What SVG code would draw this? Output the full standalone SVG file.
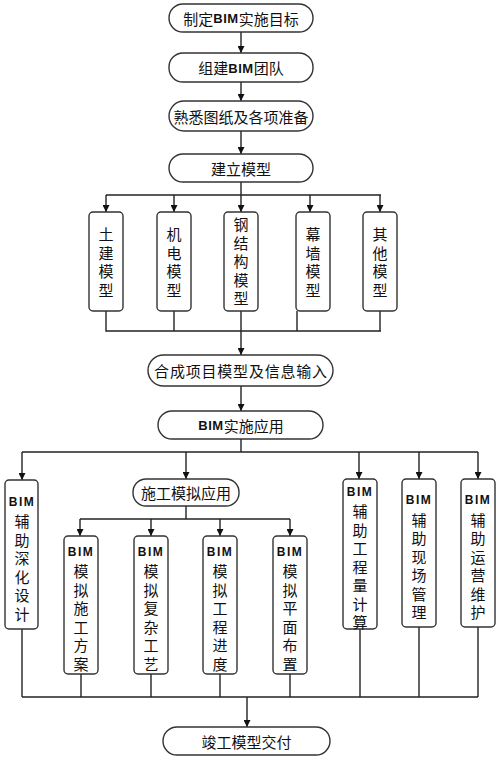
<svg xmlns="http://www.w3.org/2000/svg" width="500" height="762" viewBox="0 0 500 762">
<style>
.box{fill:#fff;stroke:#333;stroke-width:1.4}
.ln{fill:none;stroke:#222;stroke-width:1.4}
.t{font-family:"Noto Sans CJK SC","Liberation Sans",sans-serif;font-size:15px;fill:#111;text-anchor:middle;dominant-baseline:central}
.b{font-family:"Liberation Sans",sans-serif;font-weight:bold;font-size:12px;letter-spacing:1.5px}
.bh{font-family:"Liberation Sans",sans-serif;font-weight:bold;font-size:13px;letter-spacing:0.5px}
</style>
<defs>
<marker id="ar" viewBox="0 0 10 10" refX="10" refY="5" markerWidth="7" markerHeight="7" markerUnits="userSpaceOnUse" orient="auto">
<path d="M0,0 L10,5 L0,10 z" fill="#111"/>
</marker>
</defs>
<rect width="500" height="762" fill="#fff"/>
<g id="connectors">
<line class="ln" x1="241" y1="32" x2="241" y2="53" marker-end="url(#ar)"/>
<line class="ln" x1="241" y1="82" x2="241" y2="101" marker-end="url(#ar)"/>
<line class="ln" x1="241" y1="131" x2="241" y2="154" marker-end="url(#ar)"/>
<polyline class="ln" points="241,182 241,195"/>
<line class="ln" x1="106" y1="195" x2="381" y2="195"/>
<line class="ln" x1="106" y1="195" x2="106" y2="212" marker-end="url(#ar)"/>
<line class="ln" x1="174" y1="195" x2="174" y2="212" marker-end="url(#ar)"/>
<line class="ln" x1="241" y1="195" x2="241" y2="212" marker-end="url(#ar)"/>
<line class="ln" x1="310" y1="195" x2="310" y2="212" marker-end="url(#ar)"/>
<line class="ln" x1="380" y1="195" x2="380" y2="212" marker-end="url(#ar)"/>
<polyline class="ln" points="106,311 106,331 381,331"/>
<line class="ln" x1="174" y1="311" x2="174" y2="331"/>
<line class="ln" x1="241" y1="311" x2="241" y2="331"/>
<line class="ln" x1="297" y1="311" x2="297" y2="331"/>
<line class="ln" x1="380" y1="311" x2="380" y2="331"/>
<line class="ln" x1="241" y1="331" x2="241" y2="355" marker-end="url(#ar)"/>
<line class="ln" x1="241" y1="386" x2="241" y2="411" marker-end="url(#ar)"/>
<line class="ln" x1="241" y1="439" x2="241" y2="452"/>
<line class="ln" x1="22" y1="452" x2="478" y2="452"/>
<line class="ln" x1="22" y1="452" x2="22" y2="480" marker-end="url(#ar)"/>
<line class="ln" x1="186" y1="452" x2="186" y2="479" marker-end="url(#ar)"/>
<line class="ln" x1="359" y1="452" x2="359" y2="479" marker-end="url(#ar)"/>
<line class="ln" x1="419" y1="452" x2="419" y2="479" marker-end="url(#ar)"/>
<line class="ln" x1="478" y1="452" x2="478" y2="479" marker-end="url(#ar)"/>
<line class="ln" x1="186" y1="506" x2="186" y2="519"/>
<line class="ln" x1="80" y1="519" x2="290" y2="519"/>
<line class="ln" x1="80" y1="519" x2="80" y2="536" marker-end="url(#ar)"/>
<line class="ln" x1="151" y1="519" x2="151" y2="536" marker-end="url(#ar)"/>
<line class="ln" x1="220" y1="519" x2="220" y2="536" marker-end="url(#ar)"/>
<line class="ln" x1="290" y1="519" x2="290" y2="536" marker-end="url(#ar)"/>
<line class="ln" x1="22" y1="697" x2="478" y2="697"/>
<line class="ln" x1="22" y1="629" x2="22" y2="697"/>
<line class="ln" x1="81" y1="674" x2="81" y2="697"/>
<line class="ln" x1="151" y1="674" x2="151" y2="697"/>
<line class="ln" x1="220" y1="674" x2="220" y2="697"/>
<line class="ln" x1="290" y1="674" x2="290" y2="697"/>
<line class="ln" x1="360" y1="629" x2="360" y2="697"/>
<line class="ln" x1="419" y1="627" x2="419" y2="697"/>
<line class="ln" x1="478" y1="627" x2="478" y2="697"/>
<line class="ln" x1="247" y1="697" x2="247" y2="727" marker-end="url(#ar)"/>
</g>
<g id="n1"><rect class="box" x="169" y="4" width="144" height="28" rx="14"/><text class="t" x="241" y="18">制定<tspan class="bh">BIM</tspan>实施目标</text></g>
<g id="n2"><rect class="box" x="169" y="53" width="144" height="29" rx="14"/><text class="t" x="241" y="67.5">组建<tspan class="bh">BIM</tspan>团队</text></g>
<g id="n3"><rect class="box" x="169" y="101" width="144" height="30" rx="15"/><text class="t" x="241" y="116">熟悉图纸及各项准备</text></g>
<g id="n4"><rect class="box" x="169" y="154" width="144" height="28" rx="14"/><text class="t" x="241" y="168">建立模型</text></g>
<g id="m1"><rect class="box" x="89" y="212" width="34" height="99" rx="4"/><text class="t" x="106"><tspan x="106" y="233">土</tspan><tspan x="106" y="251.5">建</tspan><tspan x="106" y="270">模</tspan><tspan x="106" y="288.5">型</tspan></text></g>
<g id="m2"><rect class="box" x="157" y="212" width="34" height="99" rx="4"/><text class="t"><tspan x="174" y="233">机</tspan><tspan x="174" y="251.5">电</tspan><tspan x="174" y="270">模</tspan><tspan x="174" y="288.5">型</tspan></text></g>
<g id="m3"><rect class="box" x="224" y="212" width="34" height="99" rx="4"/><text class="t"><tspan x="241" y="223">钢</tspan><tspan x="241" y="241.5">结</tspan><tspan x="241" y="260">构</tspan><tspan x="241" y="278.5">模</tspan><tspan x="241" y="297">型</tspan></text></g>
<g id="m4"><rect class="box" x="296" y="212" width="34" height="99" rx="4"/><text class="t"><tspan x="313" y="233">幕</tspan><tspan x="313" y="251.5">墙</tspan><tspan x="313" y="270">模</tspan><tspan x="313" y="288.5">型</tspan></text></g>
<g id="m5"><rect class="box" x="363" y="212" width="34" height="99" rx="4"/><text class="t"><tspan x="380" y="233">其</tspan><tspan x="380" y="251.5">他</tspan><tspan x="380" y="270">模</tspan><tspan x="380" y="288.5">型</tspan></text></g>
<g id="n6"><rect class="box" x="148" y="355" width="185" height="31" rx="15.5"/><text class="t" x="241" y="370.5" letter-spacing="0.8">合成项目模型及信息输入</text></g>
<g id="n7"><rect class="box" x="158" y="411" width="165" height="28" rx="14"/><text class="t" x="241" y="425"><tspan class="bh">BIM</tspan>实施应用</text></g>
<g id="a1"><rect class="box" x="5" y="480" width="33" height="149" rx="4"/><text class="t"><tspan class="b" x="22" y="502">BIM</tspan><tspan x="22" y="520">辅</tspan><tspan x="22" y="538.5">助</tspan><tspan x="22" y="557">深</tspan><tspan x="22" y="575.5">化</tspan><tspan x="22" y="594">设</tspan><tspan x="22" y="612.5">计</tspan></text></g>
<g id="s0"><rect class="box" x="133" y="479" width="106" height="27" rx="13"/><text class="t" x="186" y="492.5">施工模拟应用</text></g>
<g id="s1"><rect class="box" x="64" y="536" width="34" height="138" rx="4"/><text class="t"><tspan class="b" x="81" y="552">BIM</tspan><tspan x="81" y="570">模</tspan><tspan x="81" y="588.5">拟</tspan><tspan x="81" y="607">施</tspan><tspan x="81" y="625.5">工</tspan><tspan x="81" y="644">方</tspan><tspan x="81" y="662.5">案</tspan></text></g>
<g id="s2"><rect class="box" x="134" y="536" width="34" height="138" rx="4"/><text class="t"><tspan class="b" x="151" y="552">BIM</tspan><tspan x="151" y="570">模</tspan><tspan x="151" y="588.5">拟</tspan><tspan x="151" y="607">复</tspan><tspan x="151" y="625.5">杂</tspan><tspan x="151" y="644">工</tspan><tspan x="151" y="662.5">艺</tspan></text></g>
<g id="s3"><rect class="box" x="203" y="536" width="34" height="138" rx="4"/><text class="t"><tspan class="b" x="220" y="552">BIM</tspan><tspan x="220" y="570">模</tspan><tspan x="220" y="588.5">拟</tspan><tspan x="220" y="607">工</tspan><tspan x="220" y="625.5">程</tspan><tspan x="220" y="644">进</tspan><tspan x="220" y="662.5">度</tspan></text></g>
<g id="s4"><rect class="box" x="273" y="536" width="34" height="138" rx="4"/><text class="t"><tspan class="b" x="290" y="552">BIM</tspan><tspan x="290" y="570">模</tspan><tspan x="290" y="588.5">拟</tspan><tspan x="290" y="607">平</tspan><tspan x="290" y="625.5">面</tspan><tspan x="290" y="644">布</tspan><tspan x="290" y="662.5">置</tspan></text></g>
<g id="a2"><rect class="box" x="343" y="479" width="34" height="150" rx="4"/><text class="t"><tspan class="b" x="360" y="492">BIM</tspan><tspan x="360" y="510">辅</tspan><tspan x="360" y="528.5">助</tspan><tspan x="360" y="547">工</tspan><tspan x="360" y="565.5">程</tspan><tspan x="360" y="584">量</tspan><tspan x="360" y="602.5">计</tspan><tspan x="360" y="621">算</tspan></text></g>
<g id="a3"><rect class="box" x="402" y="479" width="34" height="148" rx="4"/><text class="t"><tspan class="b" x="419" y="500">BIM</tspan><tspan x="419" y="518.5">辅</tspan><tspan x="419" y="537">助</tspan><tspan x="419" y="555.5">现</tspan><tspan x="419" y="574">场</tspan><tspan x="419" y="592.5">管</tspan><tspan x="419" y="611">理</tspan></text></g>
<g id="a4"><rect class="box" x="461" y="479" width="34" height="148" rx="4"/><text class="t"><tspan class="b" x="478" y="500">BIM</tspan><tspan x="478" y="518.5">辅</tspan><tspan x="478" y="537">助</tspan><tspan x="478" y="555.5">运</tspan><tspan x="478" y="574">营</tspan><tspan x="478" y="592.5">维</tspan><tspan x="478" y="611">护</tspan></text></g>
<g id="n8"><rect class="box" x="163" y="727" width="167" height="28" rx="14"/><text class="t" x="246.5" y="741">竣工模型交付</text></g>
</svg>
